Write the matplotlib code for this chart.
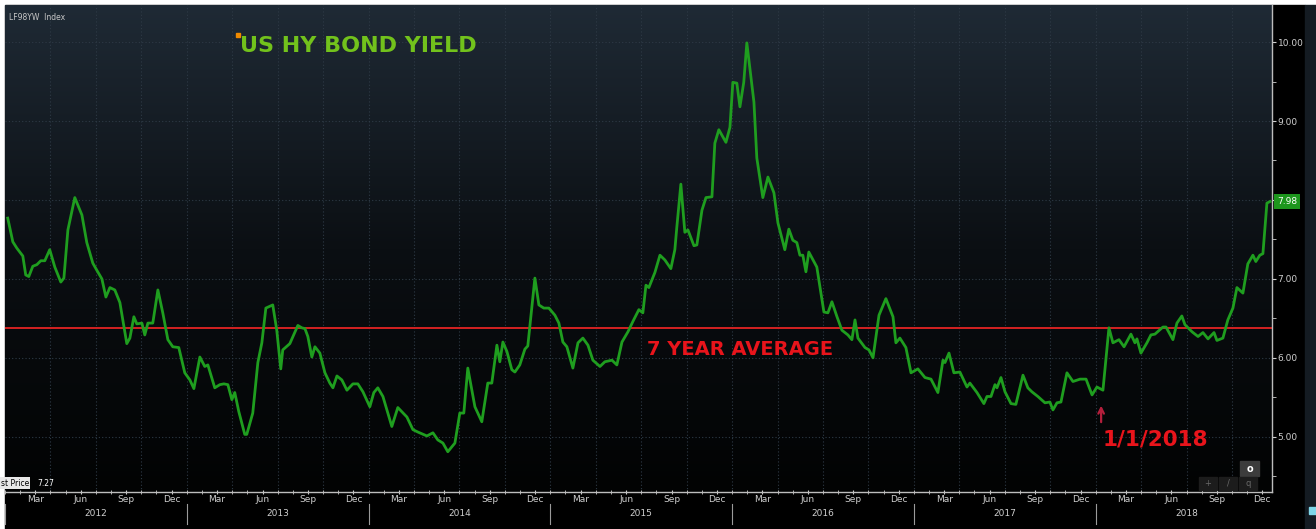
import matplotlib
matplotlib.use("Agg")
import matplotlib.pyplot as plt
import numpy as np
from matplotlib.colors import LinearSegmentedColormap
from matplotlib.patches import Rectangle
import matplotlib.transforms as mtransforms

# 周收益率 (decimal year, yield %)
years = [
    2012.015, 2012.043, 2012.065, 2012.098, 2012.114, 2012.131, 2012.153, 2012.175, 2012.197, 2012.219,
    2012.246, 2012.274, 2012.307, 2012.324, 2012.346, 2012.384, 2012.423, 2012.450, 2012.483, 2012.505,
    2012.533, 2012.555, 2012.577, 2012.604, 2012.632, 2012.670, 2012.687, 2012.709, 2012.725, 2012.753,
    2012.769, 2012.786, 2012.813, 2012.841, 2012.868, 2012.896, 2012.923, 2012.956, 2012.989, 2013.017,
    2013.039, 2013.072, 2013.099, 2013.116, 2013.154, 2013.182, 2013.204, 2013.226, 2013.248, 2013.264,
    2013.286, 2013.319, 2013.330, 2013.363, 2013.391, 2013.413, 2013.435, 2013.473, 2013.495, 2013.517,
    2013.528, 2013.567, 2013.611, 2013.633, 2013.650, 2013.666, 2013.688, 2013.705, 2013.732, 2013.760,
    2013.787, 2013.804, 2013.826, 2013.853, 2013.881, 2013.914, 2013.941, 2013.969, 2014.007, 2014.029,
    2014.051, 2014.079, 2014.128, 2014.161, 2014.211, 2014.244, 2014.271, 2014.321, 2014.354, 2014.381,
    2014.409, 2014.436, 2014.475, 2014.502, 2014.524, 2014.546, 2014.585, 2014.623, 2014.656, 2014.678,
    2014.706, 2014.722, 2014.739, 2014.761, 2014.788, 2014.805, 2014.832, 2014.860, 2014.876, 2014.915,
    2014.937, 2014.964, 2014.992, 2015.025, 2015.047, 2015.069, 2015.091, 2015.124, 2015.152, 2015.179,
    2015.207, 2015.234, 2015.273, 2015.300, 2015.339, 2015.366, 2015.394, 2015.427, 2015.454, 2015.487,
    2015.509, 2015.526, 2015.542, 2015.575, 2015.603, 2015.630, 2015.663, 2015.685, 2015.696, 2015.718,
    2015.740, 2015.757, 2015.790, 2015.806, 2015.834, 2015.856, 2015.889, 2015.905, 2015.927, 2015.966,
    2015.988, 2016.004, 2016.026, 2016.043, 2016.064, 2016.081, 2016.120, 2016.136, 2016.169, 2016.197,
    2016.230, 2016.252, 2016.290, 2016.312, 2016.334, 2016.356, 2016.373, 2016.389, 2016.406, 2016.422,
    2016.466, 2016.505, 2016.527, 2016.549, 2016.577, 2016.604, 2016.637, 2016.659, 2016.676, 2016.692,
    2016.731, 2016.753, 2016.775, 2016.808, 2016.846, 2016.885, 2016.901, 2016.923, 2016.956, 2016.984,
    2017.022, 2017.061, 2017.094, 2017.132, 2017.160, 2017.171, 2017.193, 2017.220, 2017.253, 2017.292,
    2017.308, 2017.347, 2017.385, 2017.402, 2017.424, 2017.446, 2017.457, 2017.479, 2017.501, 2017.534,
    2017.561, 2017.600, 2017.627, 2017.649, 2017.682, 2017.721, 2017.748, 2017.765, 2017.787, 2017.809,
    2017.842, 2017.875, 2017.914, 2017.947, 2017.980, 2018.007, 2018.040, 2018.073, 2018.095, 2018.128,
    2018.156, 2018.194, 2018.216, 2018.227, 2018.249, 2018.282, 2018.304, 2018.326, 2018.370, 2018.387,
    2018.425, 2018.447, 2018.474, 2018.491, 2018.530, 2018.563, 2018.590, 2018.618, 2018.651, 2018.667,
    2018.700, 2018.727, 2018.755, 2018.777, 2018.810, 2018.837, 2018.865, 2018.881, 2018.903, 2018.920,
    2018.942, 2018.959,
]
yields = [
    7.77, 7.47, 7.39, 7.29, 7.05, 7.03, 7.16, 7.18, 7.23, 7.23,
    7.37, 7.15, 6.96, 7.01, 7.62, 8.03, 7.81, 7.46, 7.20, 7.11,
    7.00, 6.77, 6.89, 6.86, 6.70, 6.18, 6.25, 6.52, 6.43, 6.44,
    6.29, 6.44, 6.44, 6.86, 6.57, 6.23, 6.14, 6.13, 5.81, 5.72,
    5.61, 6.01, 5.89, 5.91, 5.62, 5.66, 5.67, 5.66, 5.47, 5.56,
    5.32, 5.03, 5.03, 5.30, 5.94, 6.19, 6.63, 6.67, 6.35, 5.86,
    6.10, 6.18, 6.41, 6.38, 6.37, 6.27, 6.01, 6.14, 6.06, 5.81,
    5.68, 5.62, 5.77, 5.72, 5.59, 5.67, 5.67, 5.57, 5.38, 5.56,
    5.62, 5.51, 5.13, 5.37, 5.25, 5.09, 5.06, 5.01, 5.05, 4.96,
    4.92, 4.81, 4.92, 5.30, 5.30, 5.87, 5.38, 5.19, 5.68, 5.68,
    6.16, 5.95, 6.20, 6.08, 5.85, 5.82, 5.91, 6.11, 6.15, 7.01,
    6.67, 6.63, 6.63, 6.54, 6.44, 6.20, 6.14, 5.87, 6.19, 6.25,
    6.16, 5.97, 5.89, 5.95, 5.97, 5.91, 6.20, 6.33, 6.46, 6.61,
    6.57, 6.92, 6.89, 7.08, 7.30, 7.24, 7.13, 7.37, 7.66, 8.20,
    7.59, 7.62, 7.42, 7.43, 7.87, 8.03, 8.04, 8.72, 8.89, 8.73,
    8.92, 9.49, 9.48, 9.18, 9.49, 9.99, 9.24, 8.53, 8.03, 8.29,
    8.09, 7.71, 7.37, 7.63, 7.49, 7.46, 7.30, 7.30, 7.09, 7.34,
    7.15, 6.58, 6.57, 6.71, 6.52, 6.35, 6.29, 6.23, 6.48, 6.25,
    6.13, 6.10, 6.00, 6.54, 6.75, 6.52, 6.19, 6.25, 6.13, 5.81,
    5.86, 5.75, 5.73, 5.56, 5.97, 5.94, 6.06, 5.81, 5.82, 5.63,
    5.68, 5.56, 5.42, 5.51, 5.51, 5.66, 5.62, 5.75, 5.57, 5.42,
    5.41, 5.78, 5.62, 5.57, 5.51, 5.43, 5.44, 5.34, 5.43, 5.44,
    5.81, 5.70, 5.73, 5.73, 5.53, 5.63, 5.59, 6.38, 6.19, 6.23,
    6.14, 6.30, 6.19, 6.24, 6.06, 6.19, 6.29, 6.30, 6.39, 6.39,
    6.23, 6.44, 6.53, 6.42, 6.33, 6.27, 6.32, 6.24, 6.32, 6.22,
    6.25, 6.48, 6.63, 6.89, 6.82, 7.19, 7.30, 7.22, 7.30, 7.32,
    7.96, 7.98,
]
seven_year_avg = 6.38
last_value = 7.98
month_names = ['Mar', 'Jun', 'Sep', 'Dec']
month_nums = [3, 6, 9, 12]
year_list = [2012, 2013, 2014, 2015, 2016, 2017, 2018]
y_ticks = [5, 6, 7, 8, 9, 10]

W, H = 1316, 529
fx = lambda px: px / W
fy = lambda py: 1 - py / H

fig = plt.figure(figsize=(13.16, 5.29), dpi=100, facecolor='white')

# 背景面板
fig.patches.append(Rectangle((fx(5), 0), fx(1305) - fx(5), fy(5), transform=fig.transFigure,
                             color='black', zorder=-2))
fig.patches.append(Rectangle((fx(1305), 0), 1 - fx(1305), fy(5), transform=fig.transFigure,
                             color='#141b22', zorder=-2))
fig.patches.append(Rectangle((fx(1309), fy(514)), fx(7), 7 / H, transform=fig.transFigure,
                             color='#7fd6e8', zorder=-1))

ax = fig.add_axes([fx(5), fy(492), fx(1272) - fx(5), fy(5) - fy(492)])
ax.set_facecolor('black')

grad = np.linspace(0, 1, 256).reshape(-1, 1)
cmap = LinearSegmentedColormap.from_list('bg', ['#020303', '#0b0f13', '#1f2a35'])
ax.imshow(grad, cmap=cmap, extent=[0, 1, 0, 1], transform=ax.transAxes,
          origin='lower', aspect='auto', zorder=0)

ax.set_xlim(2012.0, 2018.97)
ax.set_ylim(4.30, 10.47)

# 网格
for yr in range(2012, 2019):
    for q in [0.25, 0.5, 0.75, 1.0]:
        ax.axvline(yr + q, color='#2e3a46', lw=0.8, ls=(0, (1, 2)), zorder=1)
for v in y_ticks:
    ax.axhline(v, color='#2e3a46', lw=0.8, ls=(0, (1, 2)), zorder=1)

ax.axhline(seven_year_avg, color='#d42222', lw=1.4, zorder=2)
ax.plot(years, yields, color='#1f9e1f', lw=2.0, zorder=3)

# 坐标轴
for s in ['top', 'left']:
    ax.spines[s].set_visible(False)
for s in ['bottom', 'right']:
    ax.spines[s].set_color('#bdbdbd')
    ax.spines[s].set_linewidth(1.0)
    ax.spines[s].set_zorder(5)

ax.yaxis.tick_right()
ax.set_yticks(y_ticks)
ax.set_yticklabels(['%.2f' % v for v in y_ticks])
ax.set_yticks(np.arange(4.5, 10.5, 1.0), minor=True)
ax.tick_params(axis='y', which='both', colors='#cfcfcf', labelsize=6.5, length=3, pad=1)

xt = [yr + (m - 1) / 12 for yr in year_list for m in month_nums]
xl = [n for yr in year_list for n in month_names]
ax.set_xticks(xt)
ax.set_xticklabels(xl)
ax.set_xticks([yr + m / 12 for yr in year_list for m in range(12)], minor=True)
ax.tick_params(axis='x', which='both', colors='#cfcfcf', labelsize=6.5, length=3,
               direction='inout', pad=1)

trans = mtransforms.blended_transform_factory(ax.transData, ax.transAxes)
for yr in year_list:
    ax.plot([yr, yr], [-0.025, -0.065], color='#9a9a9a', lw=0.8, transform=trans, clip_on=False)
    ax.text(yr + 0.5, -0.034, str(yr), transform=trans, ha='center', va='top',
            color='#cfcfcf', fontsize=6.5)

# 最新值标签
ty = mtransforms.blended_transform_factory(ax.transAxes, ax.transData)
ax.text(1.004, last_value, '%.2f' % last_value, transform=ty, ha='left', va='center',
        color='white', fontsize=6.5, zorder=6,
        bbox=dict(boxstyle='square,pad=0.35', fc='#1d961d', ec='none'))

# 注释
ax.text(2015.53, 6.11, '7 YEAR AVERAGE', color='#e8141b', fontsize=14, fontweight='bold',
        ha='left', va='center', zorder=4)
ax.annotate('', xy=(2018.03, 5.43), xytext=(2018.03, 5.15),
            arrowprops=dict(arrowstyle='->', color='#b51f3c', lw=1.6), zorder=4)
ax.text(2018.04, 4.96, '1/1/2018', color='#e8141b', fontsize=15.5, fontweight='bold',
        ha='left', va='center', zorder=4)

fig.text(fx(240), fy(46), 'US HY BOND YIELD', color='#72c21c', fontsize=16, fontweight='bold',
         ha='left', va='center')
fig.patches.append(Rectangle((fx(236), fy(37)), 4 / W, 4 / H, transform=fig.transFigure,
                             color='#f08a00', zorder=3))
fig.text(fx(9), fy(17), 'LF98YW  Index', color='#c8c8c8', fontsize=5.5, ha='left', va='center')

# Last Price 标签
fig.text(fx(1), fy(483), 'st Price', color='black', fontsize=5.5, ha='left', va='center',
         bbox=dict(boxstyle='square,pad=0.15', fc='#e8e8e8', ec='none'))
fig.text(fx(37), fy(483), '7.27', color='white', fontsize=5.5, ha='left', va='center')

# 缩放按钮
fig.patches.append(Rectangle((fx(1240), fy(476)), 19 / W, 15 / H, transform=fig.transFigure,
                             color='#3c3c3c', zorder=3))
fig.text(fx(1249.5), fy(468.5), 'o', color='white', fontsize=7, fontweight='bold',
         ha='center', va='center', zorder=4)
for i, sym in enumerate(['+', '/', 'q']):
    fig.patches.append(Rectangle((fx(1199 + i * 20), fy(490)), 18 / W, 13 / H,
                                 transform=fig.transFigure, color='#1c1c1c', zorder=3))
    fig.text(fx(1208 + i * 20), fy(483.5), sym, color='#6a6a6a', fontsize=6,
             ha='center', va='center', zorder=4)

fig.savefig('out.png', dpi=100, facecolor=fig.get_facecolor())
